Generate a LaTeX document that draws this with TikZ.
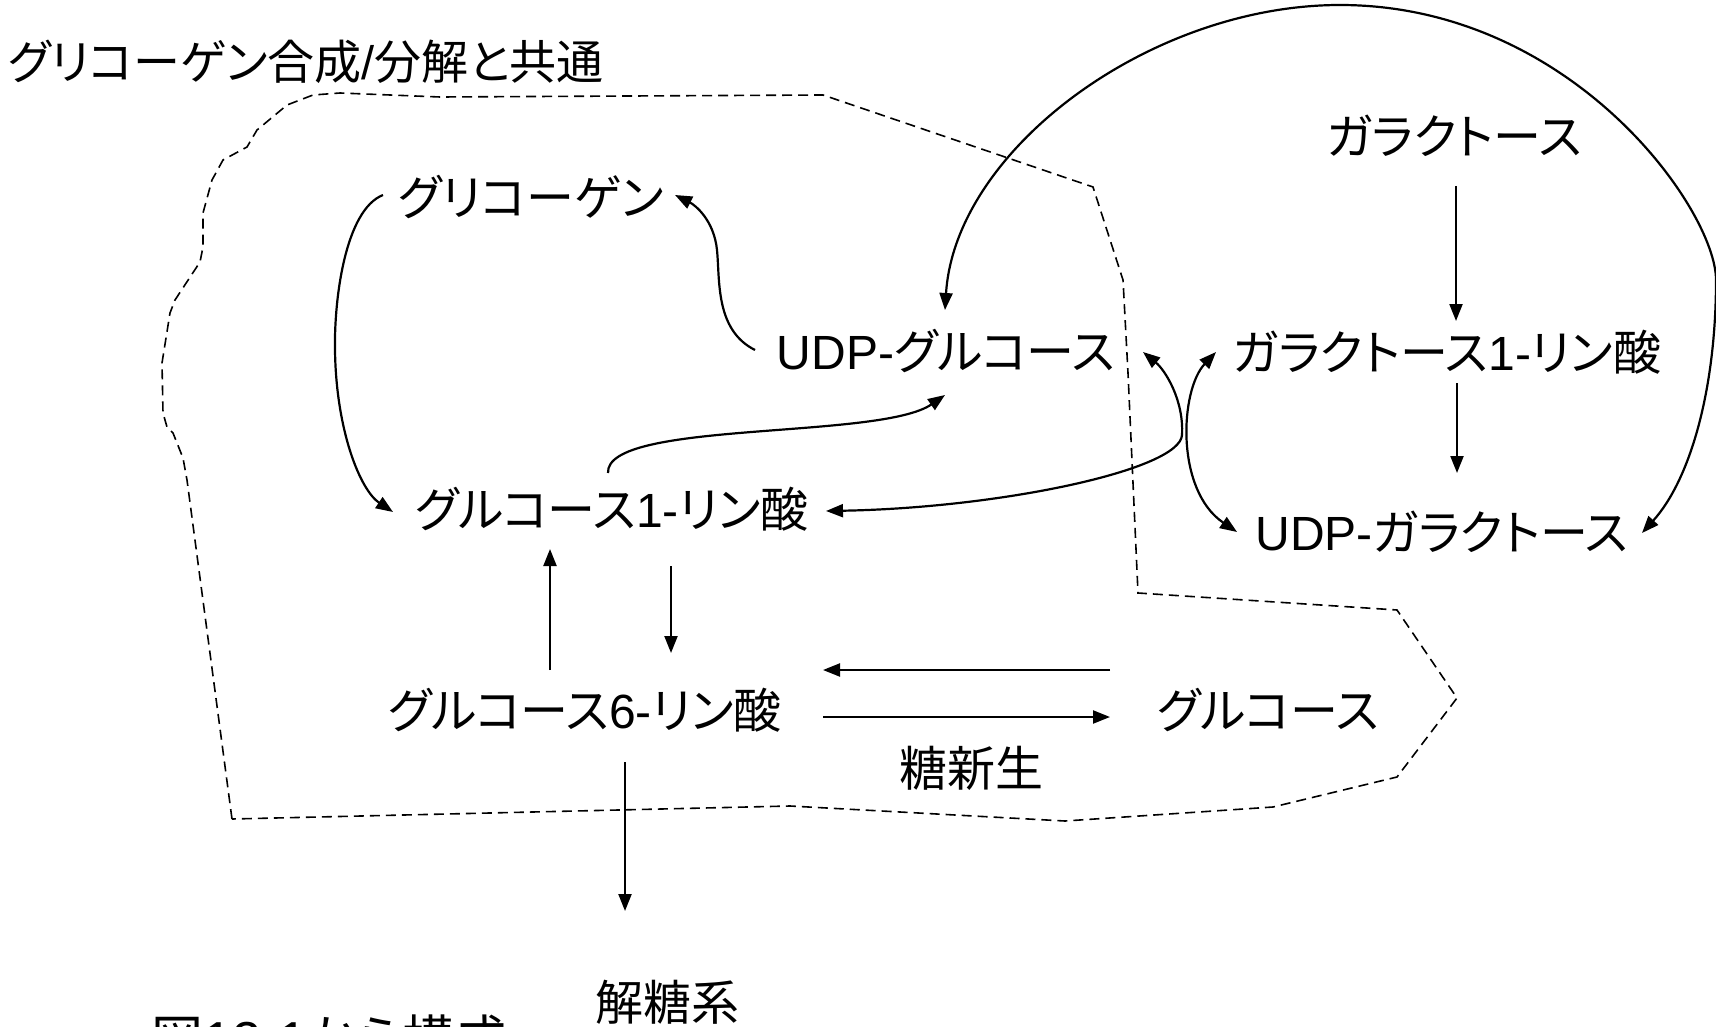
\documentclass[tikz,border=0pt]{standalone}
\usepackage{fontspec}
\setmainfont{Liberation Sans}
\newfontfamily\jpf[RawFeature=+palt]{Noto Sans CJK JP}
\usetikzlibrary{arrows.meta,calc}
\tikzset{
  lbl/.style={anchor=base, inner sep=0pt, font=\fontsize{48}{58}\selectfont},
  ttl/.style={anchor=base, inner sep=0pt, font=\fontsize{47}{56}\selectfont},
  figlbl/.style={anchor=base, inner sep=0pt, font=\fontsize{52}{62}\selectfont},
  conn/.style={line width=2.2pt, -{Triangle[length=17pt,width=13pt]}},
  biconn/.style={line width=2.2pt, {Triangle[length=17pt,width=13pt]}-{Triangle[length=17pt,width=13pt]}},
  region/.style={line width=1.6pt, dash pattern=on 10pt off 6pt},
}
\begin{document}
\begin{tikzpicture}[x=1pt, y=-1pt]
\useasboundingbox (0,0) rectangle (1716,1027);
\clip (0,0) rectangle (1716,1027);
\fill[white] (0,0) rectangle (1716,1027);

% region
\draw[region] (232,819) -- (187,480) -- (183,458) -- (173,433) -- (167,427) -- (163,413) -- (162,363) -- (170,313) -- (175,300) -- (200,262) -- (203,247) -- (203,213) -- (212,180) -- (223,160) -- (247,147) -- (257,130) -- (287,105) -- (313,95) -- (340,93) -- (440,97) -- (823,95) -- (1093,187) -- (1123,280) -- (1128,373) -- (1138,593) -- (1397,610) -- (1457,698) -- (1397,777) -- (1273,807) -- (1065,821) -- (790,806) -- cycle;

% nodes
\node[ttl] (title) at (306,80) {{\jpf グリコーゲン合成}/{\jpf 分解と共通}};
\node[lbl] (gly) at (531,215) {\jpf グリコーゲン};
\node[lbl] (udpglc) at (946,369) {UDP-{\jpf グルコース}};
\node[lbl] (gal) at (1454,155) {\jpf ガラクトース};
\node[lbl] (gal1p) at (1447,370) {{\jpf ガラクトース}1-{\jpf リン酸}};
\node[lbl] (udpgal) at (1442,550) {UDP-{\jpf ガラクトース}};
\node[lbl] (g1p) at (612,527) {{\jpf グルコース}1-{\jpf リン酸}};
\node[lbl] (g6p) at (585,728) {{\jpf グルコース}6-{\jpf リン酸}};
\node[lbl] (glc) at (1268,728) {\jpf グルコース};
\node[lbl] (gng) at (971,786) {\jpf 糖新生};
\node[lbl] (glyco) at (667,1020) {\jpf 解糖系};
\node[figlbl] (fig) at (329,1058) {{\jpf 図}12-1{\jpf から構成}};

% straight arrows
\draw[conn] ($(gal.base)+(2,31)$) -- ($(gal1p.base)+(9,-49)$);
\draw[conn] ($(gal1p.base)+(10,13)$) -- ($(udpgal.base)+(15,-77)$);
\draw[conn] ($(g6p.base)+(-35,-58)$) -- ($(g1p.base)+(-62,22)$);
\draw[conn] ($(g1p.base)+(59,39)$) -- ($(g6p.base)+(86,-75)$);
\draw[conn] ($(glc.base)+(-158,-58)$) -- ($(g6p.base)+(238,-58)$);
\draw[conn] ($(g6p.base)+(238,-11)$) -- ($(glc.base)+(-158,-11)$);
\draw[conn] ($(g6p.base)+(40,34)$) -- ($(glyco.base)+(-42,-109)$);

% curved arrows
\draw[conn] ($(gly.base)+(-148,-20)$) .. controls (345,210) and (334,300) .. (335,350) .. controls (336,430) and (360,490) .. ($(g1p.base)+(-219,-15)$);
\draw[conn] ($(udpglc.base)+(-191,-19)$) .. controls (715,330) and (720,280) .. (717,250) .. controls (714,220) and (695,205) .. ($(gly.base)+(144,-20)$);
\draw[conn] ($(g1p.base)+(-4,-54)$) .. controls (605,420) and (880,440) .. ($(udpglc.base)+(-1,26)$);
\draw[biconn] ($(g1p.base)+(214,-16)$) .. controls (1000,508) and (1180,470) .. (1182,435) .. controls (1184,400) and (1165,370) .. ($(udpglc.base)+(197,-17)$);
\draw[biconn] ($(gal1p.base)+(-231,-18)$) .. controls (1180,390) and (1175,490) .. ($(udpgal.base)+(-205,-18)$);
\draw[biconn] ($(udpglc.base)+(-1,-59)$) .. controls (955,150) and (1150,5) .. (1340,5) .. controls (1572,5) and (1716,210) .. (1716,280) .. controls (1716,390) and (1690,480) .. ($(udpgal.base)+(200,-17)$);
\end{tikzpicture}
\end{document}
